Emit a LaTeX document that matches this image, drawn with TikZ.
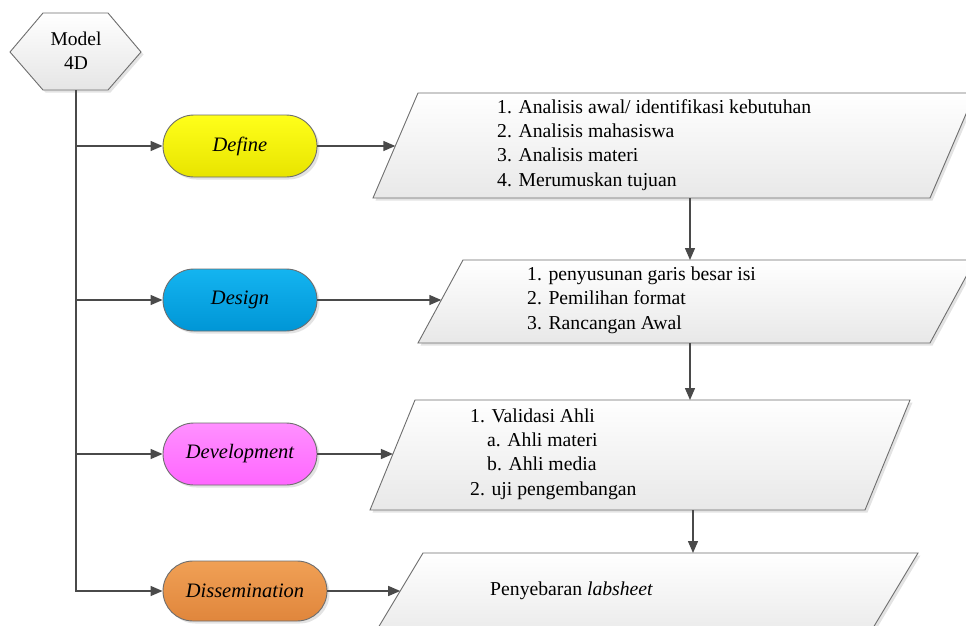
\documentclass[tikz,border=0pt]{standalone}
\usepackage{fontspec}
\setmainfont{Liberation Serif}
\usetikzlibrary{arrows.meta,shadows,shapes.misc}
\definecolor{linegray}{HTML}{4A4A4A}
\definecolor{edgegray}{HTML}{6E6E6E}
\definecolor{ylwT}{HTML}{FFFF1A}
\definecolor{ylwB}{HTML}{E8E400}
\definecolor{bluT}{HTML}{14B4F0}
\definecolor{bluB}{HTML}{0096D6}
\definecolor{magT}{HTML}{FF90FF}
\definecolor{magB}{HTML}{FF66FF}
\definecolor{orgT}{HTML}{F0A055}
\definecolor{orgB}{HTML}{E0863C}
\tikzset{
  conn/.style={draw=linegray, line width=1.4pt},
  arr/.style={conn, -{Triangle[length=12pt,width=10pt]}},
  shad/.style={drop shadow={shadow xshift=2.5pt, shadow yshift=-2.5pt, opacity=0.22}},
  pill/.style={rounded rectangle, draw=edgegray, line width=0.9pt, shad,
    minimum width=154pt, minimum height=62pt, inner sep=0pt,
    font=\rmfamily\fontsize{20.5}{22}\selectfont\itshape},
  parabox/.style={draw=edgegray, line width=0.9pt, top color=white, bottom color=black!9, shad},
  hexbox/.style={draw=edgegray, line width=0.9pt, top color=white, bottom color=black!10, shad},
  listtext/.style={align=left, anchor=west, inner sep=0pt, font=\rmfamily\fontsize{19.7}{24.3}\selectfont},
}
\begin{document}
\begin{tikzpicture}[x=1pt,y=-1pt]
\clip (0,0) rectangle (966,626);
\fill[white] (0,0) rectangle (966,626);

% hexagon
\draw[hexbox] (10,52) -- (43,13) -- (108,13) -- (141,52) -- (108,90) -- (43,90) -- cycle;
\node[align=center, inner sep=0pt, font=\rmfamily\fontsize{19.5}{24.5}\selectfont] (model) at (76,51) {Model\\4D};
\coordinate (mbot) at (76,90);

% pills
\node[pill, top color=ylwT, bottom color=ylwB] (define) at (240,146) {Define};
\node[pill, top color=bluT, bottom color=bluB] (design) at (240,300) {Design};
\node[pill, top color=magT, bottom color=magB] (devel) at (240,454) {Development};
\node[pill, top color=orgT, bottom color=orgB, minimum width=164pt, minimum height=60pt] (dissem) at (245,591) {Dissemination};

% parallelograms
\draw[parabox] (418,93) -- (975,93) -- (930,198) -- (373,198) -- cycle;
\draw[parabox] (463,260) -- (975,260) -- (930,343) -- (418,343) -- cycle;
\draw[parabox] (415,400) -- (910,400) -- (865,510) -- (370,510) -- cycle;
\draw[parabox] (423,553) -- (918,553) -- (864,643) -- (369,643) -- cycle;

\coordinate (p1w) at (395.3,146);
\coordinate (p1s) at (690,198);
\coordinate (p2n) at (690,260);
\coordinate (p2w) at (441.3,300);
\coordinate (p2s) at (690,343);
\coordinate (p3n) at (690,400);
\coordinate (p3w) at (392.9,454);
\coordinate (p3s) at (693,510);
\coordinate (p4n) at (693,553);
\coordinate (p4w) at (400.2,591);

% texts
\node[listtext] (t1) at (497,145) {1. Analisis awal/ identifikasi kebutuhan\\2. Analisis mahasiswa\\3. Analisis materi\\4. Merumuskan tujuan};
\node[listtext] (t2) at (527,300) {1. penyusunan garis besar isi\\2. Pemilihan format\\3. Rancangan Awal};
\node[listtext] (t3) at (470,454) {1. Validasi Ahli\\\hspace*{17pt}a. Ahli materi\\\hspace*{17pt}b. Ahli media\\2. uji pengembangan};
\node[listtext] (t4) at (490,591) {Penyebaran \textit{labsheet}};

% connectors
\draw[arr] (mbot) |- (define.west);
\draw[arr] (mbot) |- (design.west);
\draw[arr] (mbot) |- (devel.west);
\draw[arr] (mbot) |- (dissem.west);

\draw[arr] (define.east) -- (p1w);
\draw[arr] (design.east) -- (p2w);
\draw[arr] (devel.east) -- (p3w);
\draw[arr] (dissem.east) -- (p4w);

\draw[arr] (p1s) -- (p2n);
\draw[arr] (p2s) -- (p3n);
\draw[arr] (p3s) -- (p4n);
\end{tikzpicture}
\end{document}
